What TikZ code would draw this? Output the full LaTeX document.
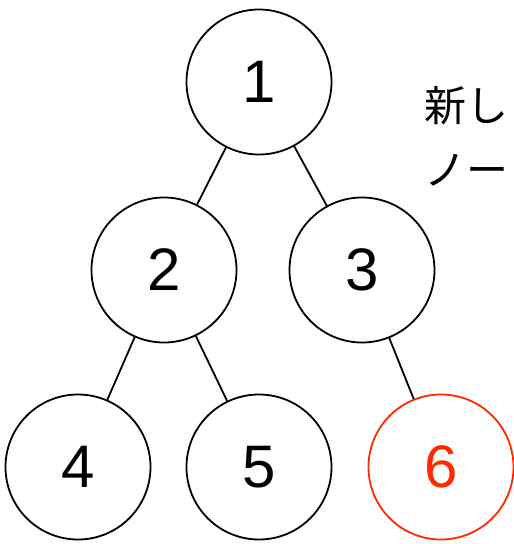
\documentclass[tikz,border=0pt]{standalone}
\usepackage{fontspec}
\setmainfont{Liberation Sans}
\newfontfamily\cjk{Noto Sans CJK JP}
\definecolor{newred}{HTML}{FF2A00}
\begin{document}
\begin{tikzpicture}[x=1pt,y=-1pt,
  treenode/.style={circle,draw,line width=1.8pt,minimum size=145pt,inner sep=0pt,font=\fontsize{60}{60}\selectfont},
  newnode/.style={treenode,draw=newred,text=newred},
  edge/.style={line width=1.8pt},
  labeltext/.style={anchor=west,inner sep=0pt,font=\cjk\fontsize{42}{42}\selectfont}]
\useasboundingbox (0,0) rectangle (514,544);
\node[treenode] (n1) at (259,82) {1};
\node[treenode] (n2) at (164,270) {2};
\node[treenode] (n3) at (362,270) {3};
\node[treenode] (n4) at (78,467) {4};
\node[treenode] (n5) at (259,467) {5};
\node[newnode] (n6) at (441,467) {6};
\draw[edge] (n1) -- (n2);
\draw[edge] (n1) -- (n3);
\draw[edge] (n2) -- (n4);
\draw[edge] (n2) -- (n5);
\draw[edge] (n3) -- (n6);
\node[labeltext] (l1) at (424,106) {新し};
\node[labeltext] (l2) at (424,170) {ノー};
\end{tikzpicture}
\end{document}
